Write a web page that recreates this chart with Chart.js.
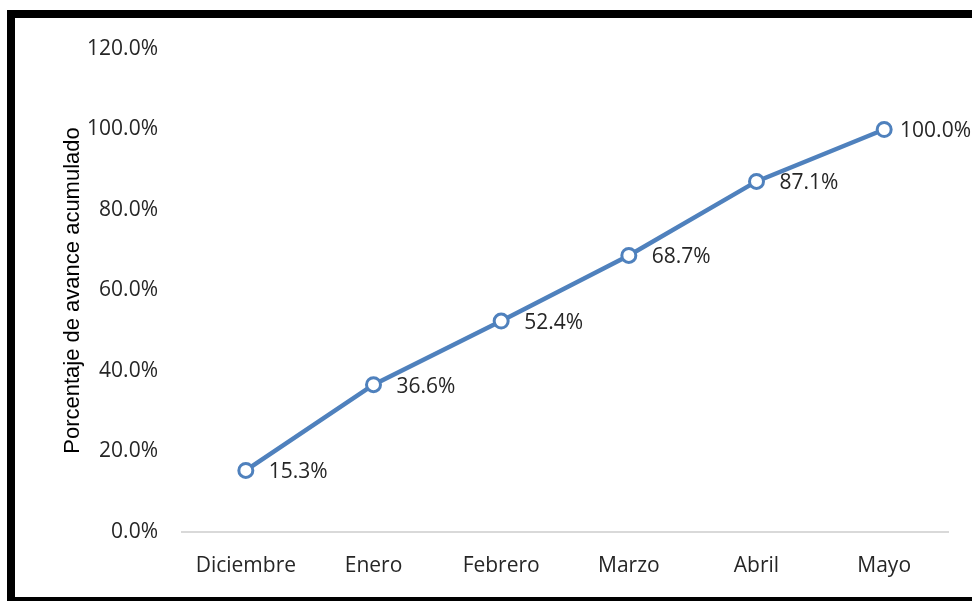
<!DOCTYPE html>
<html lang="es">
<head>
    <meta charset="UTF-8">
    <title>Avance acumulado</title>
    <script src="https://cdn.jsdelivr.net/npm/chart.js"></script>
    <style>
        html, body { margin: 0; padding: 0; background: #fff; overflow: hidden; }
        .marco {
            position: absolute;
            left: 7px; top: 10px;
            width: 980px; height: 579px;
            border: 8px solid #000;
            border-right: none;
        }
        .contenedor { position: absolute; left: 0; top: 0; width: 972px; height: 601px; }
    </style>
</head>
<body>
    <div class="marco"></div>
    <div class="contenedor">
        <canvas id="graficoAvance" width="972" height="601"></canvas>
    </div>

    <script>
        const meses = ['Diciembre', 'Enero', 'Febrero', 'Marzo', 'Abril', 'Mayo'];
        const avance = [15.3, 36.6, 52.4, 68.7, 87.1, 100.0];
        const ticksY = [0, 20, 40, 60, 80, 100, 120];

        const azul = 'rgb(79, 129, 189)';
        const texto = '#262626';
        const fuente = '"Open Sans", sans-serif';

        // Etiquetas de valor a la derecha de cada punto
        const etiquetas = {
            id: 'etiquetas',
            afterDatasetsDraw(chart) {
                const ctx = chart.ctx;
                const meta = chart.getDatasetMeta(0);
                ctx.save();
                ctx.font = '21px ' + fuente;
                ctx.fillStyle = texto;
                ctx.textBaseline = 'middle';
                meta.data.forEach((p, i) => {
                    const txt = avance[i].toFixed(1) + '%';
                    const w = ctx.measureText(txt).width;
                    let x = p.x + 23;
                    if (x + w > chart.width - 1) x = Math.max(p.x + 13, chart.width - 1 - w);
                    ctx.fillText(txt, x, p.y + 2);
                });
                ctx.restore();
            }
        };

        const ctx = document.getElementById('graficoAvance').getContext('2d');

        new Chart(ctx, {
            type: 'line',
            data: {
                labels: meses,
                datasets: [{
                    data: avance,
                    borderColor: azul,
                    borderWidth: 4.5,
                    pointRadius: 7,
                    pointBorderWidth: 3,
                    pointBackgroundColor: '#fff',
                    pointBorderColor: azul,
                    tension: 0,
                    clip: false
                }]
            },
            options: {
                responsive: false,
                animation: false,
                layout: { padding: { left: 50, right: 24, top: 49, bottom: 19 } },
                plugins: {
                    legend: { display: false },
                    tooltip: { enabled: false }
                },
                scales: {
                    x: {
                        offset: true,
                        grid: { display: false },
                        border: { color: '#d9d9d9', width: 2 },
                        ticks: { color: texto, font: { family: fuente, size: 21 }, padding: 13 },
                        afterFit(scale) { scale.height = 50; }
                    },
                    y: {
                        min: 0,
                        max: 120,
                        afterBuildTicks(scale) { scale.ticks = ticksY.map(v => ({ value: v })); },
                        grid: { display: false },
                        border: { display: false },
                        ticks: {
                            color: texto,
                            font: { family: fuente, size: 21 },
                            padding: 16,
                            callback: v => v.toFixed(1) + '%'
                        },
                        title: {
                            display: true,
                            text: 'Porcentaje de avance acumulado',
                            color: '#000',
                            font: { family: '"Liberation Sans", Arial, sans-serif', size: 22 },
                            padding: { top: 10, bottom: 0 }
                        },
                        afterFit(scale) { scale.width = 132; }
                    }
                }
            },
            plugins: [etiquetas]
        });
    </script>
</body>
</html>
